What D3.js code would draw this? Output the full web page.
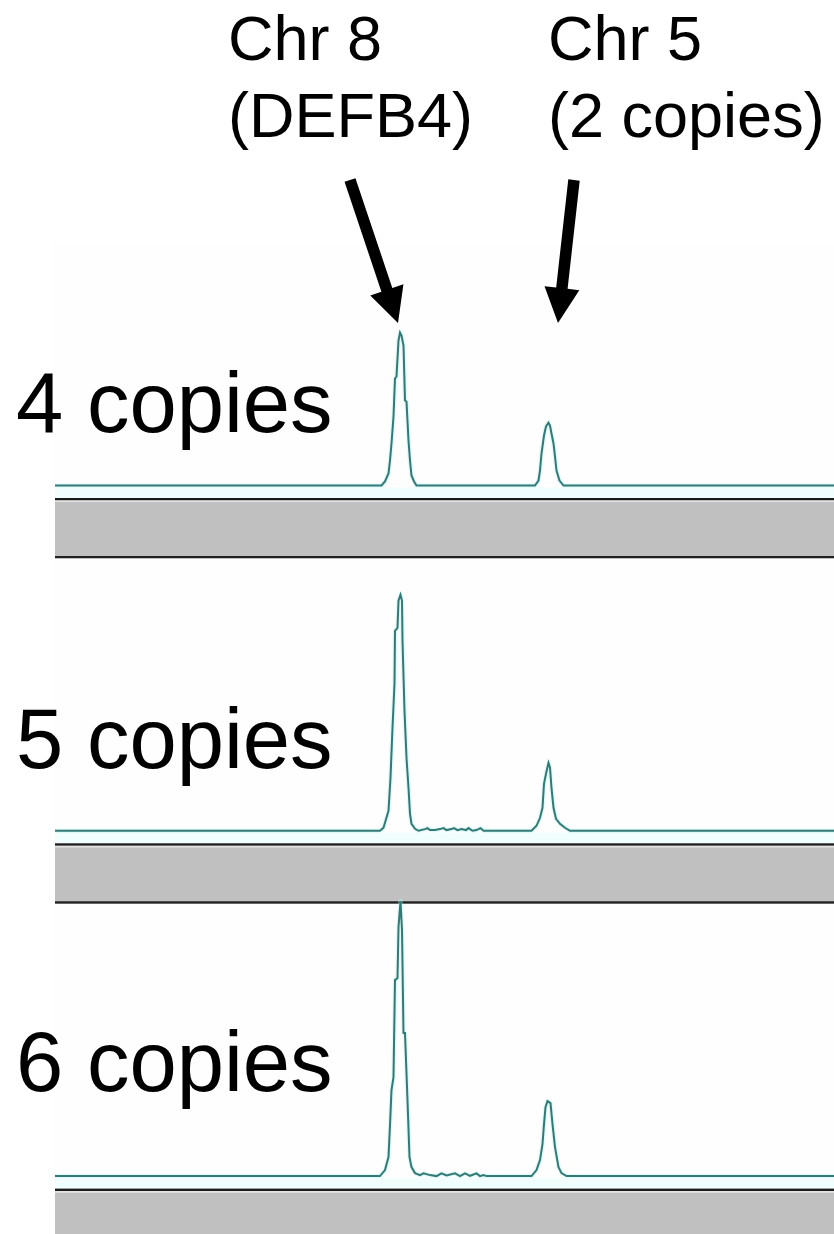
<!DOCTYPE html>
<html>
<head>
<meta charset="utf-8">
<script src="https://cdn.jsdelivr.net/npm/d3@7"></script>
<style>
  html, body { margin: 0; padding: 0; background: #fff; }
  svg { display: block; }
</style>
</head>
<body>
<script>
// Peak annotations above the electropherograms
const peakLabels = [
  { line1: "Chr 8", line2: "(DEFB4)" },
  { line1: "Chr 5", line2: "(2 copies)" }
];
const sampleLabels = ["4 copies", "5 copies", "6 copies"];

// Arrow annotations in panel-1 units: [scan, RFU]
const arrowTails = [[590, 3055], [1038, 3055]];
const arrowTips  = [[686, 1625], [1006, 1625]];

// Scan axis and signal range
const scanDomain = [0, 1560];
const rfuMax = 2730;

// Traces: [scan, RFU]
const trace4 = [
  [0, 0], [653, 0], [660, 40], [667, 120], [670, 250], [673, 420], [677, 690],
  [680, 1070], [683, 1090], [687, 1450], [690, 1530], [693, 1500], [697, 1400],
  [700, 850], [703, 840], [707, 450], [710, 250], [713, 100], [718, 40], [723, 0],
  [960, 0], [967, 50], [970, 150], [973, 320], [978, 500], [982, 590], [987, 628],
  [990, 600], [993, 520], [997, 420], [1000, 290], [1003, 150], [1009, 50], [1017, 0],
  [1560, 0]
];
const trace5 = [
  [0, 0], [650, 0], [657, 30], [667, 200], [671, 530], [675, 1030], [679, 1470],
  [680, 2000], [685, 2030], [687, 2300], [691, 2360], [694, 2300], [695, 1900],
  [699, 1200], [703, 730], [707, 430], [710, 170], [713, 70], [720, 20], [727, 0],
  [740, 17], [745, 27], [750, 7], [760, 7], [770, 17], [777, 27], [783, 7],
  [793, 17], [798, 27], [805, 7], [813, 17], [822, 7], [827, 27], [835, 0],
  [843, 7], [851, 27], [857, 0],
  [953, 0], [963, 50], [970, 130], [975, 230], [978, 470], [982, 570], [987, 680],
  [990, 630], [993, 430], [997, 230], [1002, 120], [1010, 70], [1020, 30], [1030, 0],
  [1560, 0]
];
const trace6 = [
  [0, 0], [650, 0], [660, 60], [667, 190], [670, 510], [673, 860], [677, 990],
  [680, 1960], [685, 1980], [687, 2490], [691, 2750], [694, 2460], [697, 1430],
  [700, 1430], [705, 760], [709, 190], [713, 90], [720, 30], [730, 10],
  [737, 27], [750, 10], [763, 0], [773, 27], [783, 7], [800, 27], [810, 0],
  [820, 27], [830, 3], [843, 27], [850, 0], [857, 10], [863, 0],
  [953, 0], [963, 60], [970, 160], [975, 320], [978, 520], [981, 690], [985, 750],
  [991, 730], [995, 520], [1000, 290], [1007, 90], [1013, 30], [1023, 0],
  [1560, 0]
];
const traces = [trace4, trace5, trace6];

// ---- layout ----
const W = 834, H = 1234;
const panelLeft = 55, panelRight = 835;
const firstBaseline = 485.5, panelPitch = 345.3;
const firstPanelTop = 243;
const plotHeight = 273;
const font = "'Liberation Sans', Arial, Helvetica, sans-serif";

const svg = d3.select("body").append("svg")
  .attr("width", W).attr("height", H)
  .attr("viewBox", `0 0 ${W} ${H}`);

const x = d3.scaleLinear().domain(scanDomain).range([panelLeft, panelRight]);

const panels = traces.map((trace, i) => {
  const base = firstBaseline + i * panelPitch;
  const y = d3.scaleLinear().domain([0, rfuMax]).range([base, base - plotHeight]);
  const top = i === 0 ? firstPanelTop : firstBaseline + (i - 1) * panelPitch + 73;
  return { trace, base, y, top, barTop: base + 12.5, barBottom: base + 73 };
});

// plot backgrounds and gray scroll bars
panels.forEach((p, i) => {
  const g = svg.append("g").attr("class", "panel-frame");
  g.append("rect").attr("x", panelLeft).attr("y", p.top)
    .attr("width", panelRight - panelLeft).attr("height", p.barTop - p.top)
    .attr("fill", "#fefefe");
  g.append("rect").attr("x", panelLeft).attr("y", p.base + 2)
    .attr("width", panelRight - panelLeft).attr("height", p.barTop - p.base - 2)
    .attr("fill", "#f1fefe");
  const barEnd = i === panels.length - 1 ? H : p.barBottom;
  g.append("rect").attr("x", panelLeft).attr("y", p.barTop)
    .attr("width", panelRight - panelLeft).attr("height", 2.5).attr("fill", "#1c1c1c");
  g.append("rect").attr("x", panelLeft).attr("y", p.barTop + 2.5)
    .attr("width", panelRight - panelLeft).attr("height", 1.5).attr("fill", "#e4e4e4");
  g.append("rect").attr("x", panelLeft).attr("y", p.barTop + 4)
    .attr("width", panelRight - panelLeft).attr("height", barEnd - p.barTop - 4)
    .attr("fill", "#c0c0c0");
  if (i < panels.length - 1) {
    g.append("rect").attr("x", panelLeft).attr("y", p.barBottom - 2.5)
      .attr("width", panelRight - panelLeft).attr("height", 2.5).attr("fill", "#202020");
  }
});

// traces
panels.forEach(p => {
  const line = d3.line().x(d => x(d[0])).y(d => p.y(d[1]));
  const g = svg.append("g").attr("class", "trace");
  g.append("path").datum(p.trace).attr("d", line)
    .attr("fill", "none").attr("stroke", "#b6f2ef").attr("stroke-width", 4.5)
    .attr("stroke-opacity", 0.4).attr("stroke-linejoin", "round");
  g.append("path").datum(p.trace).attr("d", line)
    .attr("fill", "none").attr("stroke", "#327a75").attr("stroke-width", 2)
    .attr("stroke-linejoin", "miter");
});

// sample labels
const sampleBaselines = [432, 768, 1091];
svg.append("g").selectAll("text").data(sampleLabels).join("text")
  .attr("x", 16).attr("y", (d, i) => sampleBaselines[i])
  .attr("font-family", font).attr("font-size", 85).attr("fill", "#000")
  .text(d => d);

// peak labels
const labelX = [228, 548];
peakLabels.forEach((lab, i) => {
  const t = svg.append("text").attr("font-family", font).attr("font-size", 63).attr("fill", "#000");
  t.append("tspan").attr("x", labelX[i]).attr("y", 60).text(lab.line1);
  t.append("tspan").attr("x", labelX[i]).attr("y", 137).text(lab.line2);
});

// arrows pointing at the peaks (panel-1 coordinates)
const y0 = panels[0].y;
const shaftW = 11.5, headW = 35, headL = 35;
arrowTails.forEach((tail, i) => {
  const tip = arrowTips[i];
  const x1 = x(tail[0]), yA = y0(tail[1]);
  const x2 = x(tip[0]), yB = y0(tip[1]);
  const dx = x2 - x1, dy = yB - yA, len = Math.hypot(dx, dy);
  const ux = dx / len, uy = dy / len, nx = -uy, ny = ux;
  const bx = x2 - ux * headL, by = yB - uy * headL;
  const pts = [
    [x1 + nx * shaftW / 2, yA + ny * shaftW / 2],
    [bx + nx * shaftW / 2, by + ny * shaftW / 2],
    [bx + nx * headW / 2, by + ny * headW / 2],
    [x2, yB],
    [bx - nx * headW / 2, by - ny * headW / 2],
    [bx - nx * shaftW / 2, by - ny * shaftW / 2],
    [x1 - nx * shaftW / 2, yA - ny * shaftW / 2]
  ];
  svg.append("path").attr("d", d3.line()(pts) + "Z").attr("fill", "#000");
});
</script>
</body>
</html>
